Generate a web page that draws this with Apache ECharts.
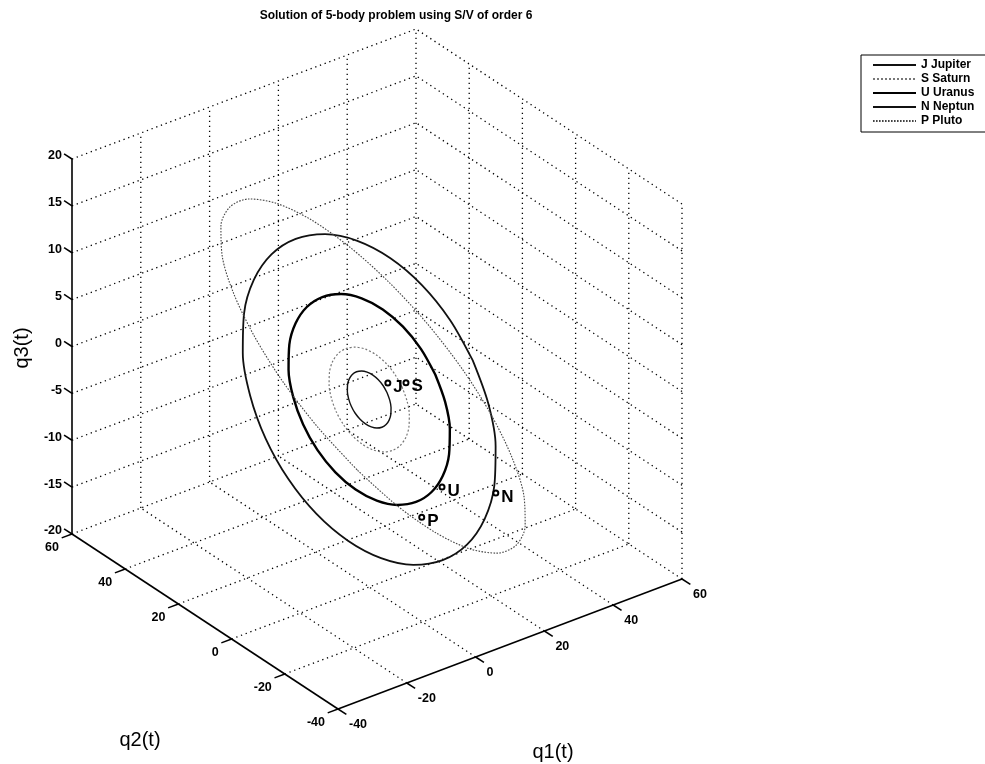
<!DOCTYPE html>
<html><head><meta charset="utf-8">
<script src="https://cdn.jsdelivr.net/npm/echarts@6/dist/echarts.min.js"></script>
<style>html,body{margin:0;padding:0;background:#fff}#c{width:985px;height:764px}</style>
</head><body><div id="c"></div>
<script>
// ---------------- data ----------------
const chartTitle = 'Solution of 5-body problem using S/V of order 6';
const q1Ticks = [-40, -20, 0, 20, 40, 60];
const q2Ticks = [-40, -20, 0, 20, 40, 60];
const q3Ticks = [-20, -15, -10, -5, 0, 5, 10, 15, 20];
const axisTitles = ['q1(t)', 'q2(t)', 'q3(t)'];
const bodyNames = ['J Jupiter', 'S Saturn', 'U Uranus', 'N Neptun', 'P Pluto'];
const markerLabels = ['J', 'S', 'U', 'N', 'P'];

const jupiterOrbit = [[5.20,0,0],[5.02,1.23,0.54],[4.50,2.39,1.03],[3.68,3.37,1.46],[2.60,4.13,1.79],[1.35,4.61,2.00],[0,4.77,2.07],[-1.35,4.61,2.00],[-2.60,4.13,1.79],[-3.68,3.37,1.46],[-4.50,2.39,1.03],[-5.02,1.23,0.54],[-5.20,0,0],[-5.02,-1.23,-0.54],[-4.50,-2.39,-1.03],[-3.68,-3.37,-1.46],[-2.60,-4.13,-1.79],[-1.35,-4.61,-2.00],[0,-4.77,-2.07],[1.35,-4.61,-2.00],[2.60,-4.13,-1.79],[3.68,-3.37,-1.46],[4.50,-2.39,-1.03],[5.02,-1.23,-0.54]];
const saturnOrbit = [[9.55,0,0],[9.22,2.27,0.98],[8.27,4.38,1.90],[6.75,6.20,2.69],[4.78,7.59,3.29],[2.47,8.46,3.67],[0,8.76,3.80],[-2.47,8.46,3.67],[-4.78,7.59,3.29],[-6.75,6.20,2.69],[-8.27,4.38,1.90],[-9.22,2.27,0.98],[-9.55,0,0],[-9.22,-2.27,-0.98],[-8.27,-4.38,-1.90],[-6.75,-6.20,-2.69],[-4.78,-7.59,-3.29],[-2.47,-8.46,-3.67],[0,-8.76,-3.80],[2.47,-8.46,-3.67],[4.78,-7.59,-3.29],[6.75,-6.20,-2.69],[8.27,-4.38,-1.90],[9.22,-2.27,-0.98]];
const uranusOrbit = [[19.2,0,0],[18.55,4.56,1.98],[16.63,8.81,3.82],[13.58,12.46,5.40],[9.6,15.26,6.61],[4.97,17.02,7.38],[0,17.62,7.64],[-4.97,17.02,7.38],[-9.6,15.26,6.61],[-13.58,12.46,5.40],[-16.63,8.81,3.82],[-18.55,4.56,1.98],[-19.2,0,0],[-18.55,-4.56,-1.98],[-16.63,-8.81,-3.82],[-13.58,-12.46,-5.40],[-9.6,-15.26,-6.61],[-4.97,-17.02,-7.38],[0,-17.62,-7.64],[4.97,-17.02,-7.38],[9.6,-15.26,-6.61],[13.58,-12.46,-5.40],[16.63,-8.81,-3.82],[18.55,-4.56,-1.98]];
const neptuneOrbit = [[30.1,0,0],[29.07,7.15,3.10],[26.07,13.81,5.99],[21.28,19.53,8.47],[15.05,23.92,10.37],[7.79,26.68,11.57],[0,27.62,11.97],[-7.79,26.68,11.57],[-15.05,23.92,10.37],[-21.28,19.53,8.47],[-26.07,13.81,5.99],[-29.07,7.15,3.10],[-30.1,0,0],[-29.07,-7.15,-3.10],[-26.07,-13.81,-5.99],[-21.28,-19.53,-8.47],[-15.05,-23.92,-10.37],[-7.79,-26.68,-11.57],[0,-27.62,-11.97],[7.79,-26.68,-11.57],[15.05,-23.92,-10.37],[21.28,-19.53,-8.47],[26.07,-13.81,-5.99],[29.07,-7.15,-3.10]];
const plutoOrbit = [[-20.18,-21.72,-0.70],[-12.55,-26.85,-4.60],[-3.61,-29.66,-8.17],[6.04,-29.96,-11.17],[15.72,-27.73,-13.39],[24.80,-23.11,-14.68],[32.63,-16.43,-14.96],[38.70,-8.15,-14.20],[42.59,1.19,-12.46],[44.03,10.93,-9.85],[42.93,20.42,-6.56],[39.35,29.01,-2.80],[33.55,36.11,1.16],[25.92,41.24,5.06],[16.98,44.05,8.64],[7.33,44.35,11.63],[-2.35,42.11,13.86],[-11.43,37.50,15.15],[-19.27,30.82,15.43],[-25.33,22.53,14.67],[-29.22,13.20,12.92],[-30.66,3.46,10.32],[-29.56,-6.03,7.02],[-25.98,-14.62,3.26]];
const markerPositions = [[6.5,1.4,0.6],[11.0,0.4,0.2],[8.1,-16.9,-7.3],[20.8,-20.7,-9.0],[-7.0,-28.8,-6.2]];

// ---------------- view (layout) ----------------
const LIM = [[q1Ticks[0], q1Ticks[q1Ticks.length-1]], [q2Ticks[0], q2Ticks[q2Ticks.length-1]], [q3Ticks[0], q3Ticks[q3Ticks.length-1]]];
const BOX_O = [338, 709], BOX_U = [344, -130], BOX_V = [-266, -175], BOX_W = [0, -375];
function proj(p) {
  const a = (p[0]-LIM[0][0])/(LIM[0][1]-LIM[0][0]);
  const b = (p[1]-LIM[1][0])/(LIM[1][1]-LIM[1][0]);
  const c = (p[2]-LIM[2][0])/(LIM[2][1]-LIM[2][0]);
  return [BOX_O[0]+a*BOX_U[0]+b*BOX_V[0]+c*BOX_W[0], BOX_O[1]+a*BOX_U[1]+b*BOX_V[1]+c*BOX_W[1]];
}
const [x0,x1] = LIM[0], [y0,y1] = LIM[1], [z0,z1] = LIM[2];

// grid segments (dotted) on floor and two back walls
const gridSegs = [];
q1Ticks.slice(1).forEach(v => gridSegs.push([v,y0,z0, v,y1,z0]));
q2Ticks.slice(1).forEach(v => gridSegs.push([x0,v,z0, x1,v,z0]));
q3Ticks.slice(1).forEach(v => gridSegs.push([x0,y1,v, x1,y1,v]));
q1Ticks.slice(1).forEach(v => gridSegs.push([v,y1,z0, v,y1,z1]));
q3Ticks.slice(1).forEach(v => gridSegs.push([x1,y0,v, x1,y1,v]));
q2Ticks.slice(0,-1).forEach(v => gridSegs.push([x1,v,z0, x1,v,z1]));

// axis items: [kind(0 line,1 tick), axis, value]
const axisItems = [[0,0,0],[0,1,0],[0,2,0]];
q1Ticks.forEach(v => axisItems.push([1,0,v]));
q2Ticks.forEach(v => axisItems.push([1,1,v]));
q3Ticks.forEach(v => axisItems.push([1,2,v]));

function axisPoint(axis, v) {
  if (axis === 0) return [v, y0, z0];
  if (axis === 1) return [x0, v, z0];
  return [x0, y1, v];
}
function tickDir(axis, v) {
  const p = axisPoint(axis, v);
  let q;
  if (axis === 0) q = [p[0], p[1]-1, p[2]];
  else if (axis === 1) q = [p[0]-1, p[1], p[2]];
  else q = [p[0], p[1]+1, p[2]];
  const a = proj(p), b = proj(q);
  const dx = b[0]-a[0], dy = b[1]-a[1], L = Math.hypot(dx, dy);
  return [dx/L, dy/L];
}
const TICK_LEN = [10, 11, 9.5];
const LABEL_OFF = [[11, 16, 'left'], [-13, 14, 'right'], [-10, -3, 'right']];
const FONT = 'Liberation Sans, Arial, Helvetica, sans-serif';

function closed(arr) { return arr.concat([arr[0]]).map(proj); }

const orbits = [jupiterOrbit, saturnOrbit, uranusOrbit, neptuneOrbit, plutoOrbit];
const orbitStyles = [
  {color: '#111', width: 1.4, type: 'solid'},
  {color: '#777', width: 1.2, type: [2, 2]},
  {color: '#000', width: 2.4, type: 'solid'},
  {color: '#111', width: 1.8, type: 'solid'},
  {color: '#444', width: 1.1, type: [1.6, 1.4]}
];

const chart = echarts.init(document.getElementById('c'), null, {renderer: 'canvas'});
const series = [
  {
    type: 'custom', name: 'grid', silent: true, z: 1,
    data: gridSegs,
    renderItem: function (params, api) {
      const a = api.coord(proj([api.value(0), api.value(1), api.value(2)]));
      const b = api.coord(proj([api.value(3), api.value(4), api.value(5)]));
      return {type: 'line', shape: {x1: a[0], y1: a[1], x2: b[0], y2: b[1]},
        style: {stroke: '#000', lineWidth: 1.3, lineDash: [1.3, 3.7]}};
    }
  },
  {
    type: 'custom', name: 'axes', silent: true, z: 3,
    data: axisItems,
    renderItem: function (params, api) {
      const kind = api.value(0), axis = api.value(1), v = api.value(2);
      if (kind === 0) {
        const ticks = [q1Ticks, q2Ticks, q3Ticks][axis];
        const a = api.coord(proj(axisPoint(axis, ticks[0])));
        const b = api.coord(proj(axisPoint(axis, ticks[ticks.length-1])));
        return {type: 'line', shape: {x1: a[0], y1: a[1], x2: b[0], y2: b[1]},
          style: {stroke: '#000', lineWidth: 1.6}};
      }
      const base = api.coord(proj(axisPoint(axis, v)));
      const d = tickDir(axis, v);
      const L = TICK_LEN[axis];
      const off = LABEL_OFF[axis];
      return {type: 'group', children: [
        {type: 'line', shape: {x1: base[0], y1: base[1], x2: base[0]+d[0]*L, y2: base[1]+d[1]*L},
          style: {stroke: '#000', lineWidth: 1.5}},
        {type: 'text', style: {text: String(v), x: base[0]+off[0], y: base[1]+off[1],
          align: off[2], verticalAlign: 'middle', fill: '#000',
          font: 'bold 12.5px ' + FONT}}
      ]};
    }
  }
];
orbits.forEach((o, i) => {
  series.push({
    type: 'line', name: bodyNames[i], data: closed(o), smooth: 0.3,
    symbol: 'none', showSymbol: false, z: 4, silent: true,
    lineStyle: {color: orbitStyles[i].color, width: orbitStyles[i].width, type: orbitStyles[i].type},
    itemStyle: {color: orbitStyles[i].color}
  });
});
series.push({
  type: 'scatter', name: 'positions', z: 6, silent: true,
  data: markerPositions.map((p, i) => ({value: proj(p), name: markerLabels[i]})),
  symbol: 'emptyCircle', symbolSize: 5,
  itemStyle: {color: '#000', borderColor: '#000', borderWidth: 1, opacity: 1},
  label: {show: true, position: 'right', distance: 2, offset: [0, 4], formatter: '{b}',
    color: '#000', opacity: 1, fontSize: 17, fontWeight: 'bold', fontFamily: FONT}
});

chart.setOption({
  animation: false,
  backgroundColor: '#fff',
  grid: {left: 0, right: 0, top: 0, bottom: 0},
  xAxis: {type: 'value', min: 0, max: 985, show: false},
  yAxis: {type: 'value', min: 0, max: 764, inverse: true, show: false},
  legend: {
    data: bodyNames, orient: 'vertical', left: 861, top: 55,
    itemWidth: 43, itemHeight: 8, itemGap: 0,
    padding: [3, 14, 4, 11], borderColor: '#000', borderWidth: 1, backgroundColor: '#fff',
    selectedMode: false,
    itemStyle: {opacity: 0, borderWidth: 0},
    textStyle: {fontSize: 12, fontWeight: 'bold', color: '#000', fontFamily: FONT, lineHeight: 14}
  },
  graphic: [
    {type: 'text', x: 396, y: 16, style: {text: chartTitle, align: 'center', verticalAlign: 'middle',
      font: 'bold 12px ' + FONT, fill: '#000'}},
    {type: 'text', x: 553, y: 752, style: {text: axisTitles[0], align: 'center', verticalAlign: 'middle',
      font: '20px ' + FONT, fill: '#000'}},
    {type: 'text', x: 140, y: 740, style: {text: axisTitles[1], align: 'center', verticalAlign: 'middle',
      font: '20px ' + FONT, fill: '#000'}},
    {type: 'text', x: 22, y: 348, rotation: Math.PI/2, style: {text: axisTitles[2], align: 'center', verticalAlign: 'middle',
      font: '20px ' + FONT, fill: '#000'}}
  ],
  series: series
});
</script>
</body></html>
